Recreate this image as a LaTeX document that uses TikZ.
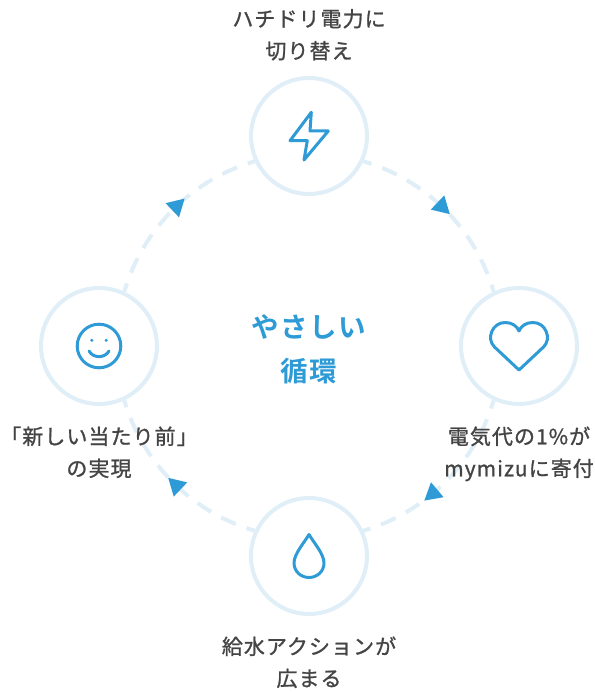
\documentclass[tikz,border=0pt]{standalone}
\usepackage{fontspec}
\usepackage{xcolor}
\usetikzlibrary{positioning,shapes.geometric}
\newfontfamily\labelfont[FakeBold=1.1,LetterSpace=5]{Noto Sans CJK JP}
\newfontfamily\titlefont[LetterSpace=5]{Noto Sans CJK JP Bold}
\definecolor{ringblue}{HTML}{DFEEF7}
\definecolor{iconblue}{HTML}{2E9BD6}
\definecolor{labelgray}{HTML}{444444}

\begin{document}
\begin{tikzpicture}[
  x=1bp, y=1bp,
  station/.style={circle, draw=ringblue, line width=4bp, minimum size=116bp, inner sep=0pt},
  ring/.style={draw=ringblue, line width=4bp, dash pattern=on 16bp off 11.5bp, dash phase=7.5bp},
  tip/.style={regular polygon, regular polygon sides=3, shape border rotate=-90, fill=iconblue,
              minimum size=22.6bp, inner sep=0pt, sloped, allow upside down},
  icon/.style={draw=iconblue, line width=3bp, line join=round, line cap=round},
  lbl/.style={align=center, text=labelgray, font=\labelfont\fontsize{21bp}{32bp}\selectfont}
]
\useasboundingbox (0,0) rectangle (595,692);

\node[station] (bolt) at (309,556) {};
\node[station] (heart) at (519,346) {};
\node[station] (drop) at (309,136) {};
\node[station] (smile) at (99,346) {};

% ring, one piece per quarter
\draw[ring] (bolt.-25) to[out=-16.3, in=106.3, looseness=.906] node[tip, pos=.474] (tipa) {} (heart.115);
\draw[ring] (heart.-115) to[out=-106.3, in=16.3, looseness=.906] node[tip, pos=.587] (tipb) {} (drop.25);
\draw[ring] (drop.155) to[out=163.7, in=-73.7, looseness=.906] node[tip, pos=.474] (tipc) {} (smile.-65);
\draw[ring] (smile.65) to[out=73.7, in=-163.7, looseness=.906] node[tip, pos=.526] (tipd) {} (bolt.-155);

% icons
\begin{scope}[shift={(bolt)}]
  \draw[icon] (2.3,23.7) -- (-19,-4.7) -- (-1.7,-4.7) -- (-5,-24) -- (19.3,5) -- (1,5) -- cycle;
\end{scope}
\begin{scope}[shift={(heart)}]
  \draw[icon] (0,-24) -- (-24.5,-1) .. controls (-33,7) and (-27,23.5) .. (-14,23.5)
    .. controls (-7,23.5) and (-2,20) .. (0,15)
    .. controls (2,20) and (7,23.5) .. (14,23.5)
    .. controls (27,23.5) and (33,7) .. (24.5,-1) -- cycle;
\end{scope}
\begin{scope}[shift={(drop)}]
  \draw[icon] (0,21.5) .. controls (-5,13) and (-15,2) .. (-15,-7)
    .. controls (-15,-15.5) and (-8,-21.5) .. (0,-21.5)
    .. controls (8,-21.5) and (15,-15.5) .. (15,-7)
    .. controls (15,2) and (5,13) .. (0,21.5) -- cycle;
\end{scope}
\begin{scope}[shift={(smile)}]
  \draw[icon] (0,0) circle (21.8);
  \fill[iconblue] (-7.2,5.7) circle (1.7);
  \fill[iconblue] (7.2,5.7) circle (1.7);
  \draw[icon] (-10,-5) .. controls (-6,-12.5) and (6,-12.5) .. (10,-5);
\end{scope}

% labels
\node[lbl, above=12bp of bolt] (boltlbl) {ハチドリ電力に\\切り替え};
\node[lbl, below=17bp of heart] (heartlbl) {電気代の1\%が\\mymizuに寄付};
\node[lbl, below=17bp of drop] (droplbl) {給水アクションが\\広まる};
\node[lbl, below=17bp of smile] (smilelbl) {「新しい当たり前」\\の実現};
\node[align=center, text=iconblue, font=\titlefont\fontsize{27.5bp}{44bp}\selectfont] (title) at (309,343) {やさしい\\循環};
\end{tikzpicture}
\end{document}
